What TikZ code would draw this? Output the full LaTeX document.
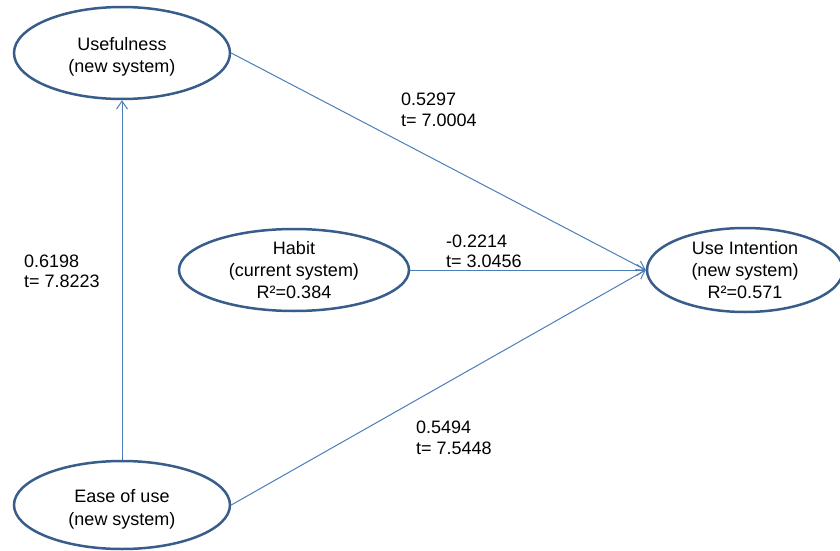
\documentclass[tikz,border=0pt]{standalone}
\usepackage{fontspec}
\setmainfont{Liberation Sans}
\usepackage{xcolor}
\usepackage{tikz}
\usetikzlibrary{shapes,arrows.meta,positioning}

\definecolor{ringblue}{HTML}{385D8A}
\definecolor{linkblue}{HTML}{4A7EBB}

\begin{document}
\begin{tikzpicture}[x=1pt, y=-1pt,
  latent/.style={ellipse, draw=ringblue, line width=2.5pt, align=center, inner xsep=0pt, inner ysep=-6pt, font=\fontsize{18}{22}\selectfont},
  twoline/.style={text height=40pt, text depth=0pt, font=\fontsize{18}{22.7}\selectfont},
  coef/.style={anchor=west, align=left, inner sep=0pt, font=\fontsize{18}{20.5}\selectfont},
  link/.style={draw=linkblue, line width=1pt, -{Straight Barb[length=8pt,width=11pt]}}
]
\useasboundingbox (0,0) rectangle (840,551);

\node[latent, twoline, minimum width=216pt, minimum height=92pt] (usef) at (122,53) {Usefulness\\(new system)};
\node[latent, twoline, minimum width=216pt, minimum height=88pt] (ease) at (122,505) {Ease of use\\(new system)};
\node[latent, minimum width=230pt, minimum height=82pt] (habit) at (294,270) {Habit\\(current system)\\R²=0.384};
\node[latent, minimum width=196pt, minimum height=84pt] (useint) at (745,270) {Use Intention\\(new system)\\R²=0.571};

\draw[link] (usef.east) -- (useint.west);
\draw[link] (habit.east) -- (useint.west);
\draw[link] (ease.east) -- (useint.west);
\draw[link] (ease.north) -- (usef.south);

\node[coef] (c1) at (401,109.6) {0.5297\\t= 7.0004};
\node[coef] (c2) at (446,251.4) {-0.2214\\t= 3.0456};
\node[coef] (c3) at (24,271.5) {0.6198\\t= 7.8223};
\node[coef] (c4) at (416,437.9) {0.5494\\t= 7.5448};
\end{tikzpicture}
\end{document}
